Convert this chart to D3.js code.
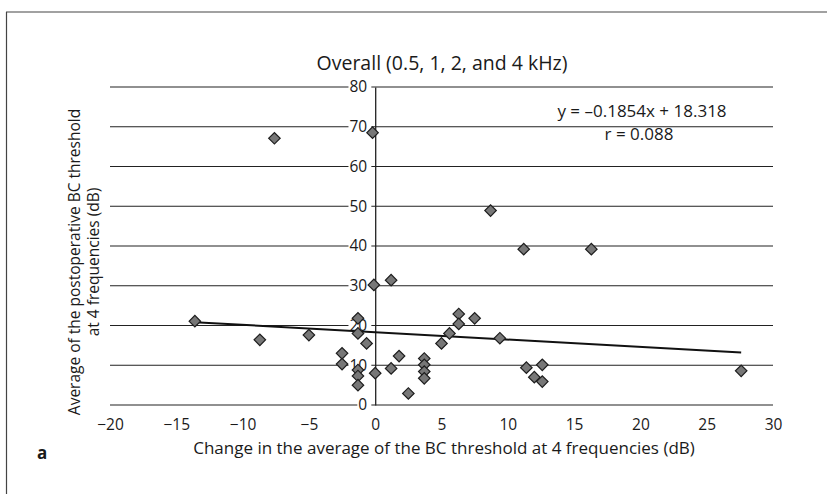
<!DOCTYPE html>
<html><head><meta charset="utf-8">
<script src="https://cdn.jsdelivr.net/npm/d3@7"></script>
<style>body{margin:0;background:#fff}svg{display:block}text{font-family:"Open Sans","Noto Sans",sans-serif;fill:#1a1a1a}</style>
</head><body><svg id="c" width="827" height="494"></svg>
<script>
const xValues = [-7.6,-0.2,8.7,11.2,16.3,-0.1,1.2,-13.6,-8.7,-5.0,-2.5,-2.5,-1.3,-1.3,-0.65,-1.3,-1.3,-1.3,0.0,1.2,1.8,2.5,3.7,3.7,3.7,3.7,5.0,5.6,6.3,6.3,7.5,9.4,11.4,12.6,12.0,12.6,27.6];
const yValues = [67.1,68.5,48.9,39.2,39.2,30.2,31.4,21.1,16.4,17.6,13.0,10.3,21.8,18.0,15.5,8.8,7.3,5.0,8.0,9.2,12.3,2.9,11.7,10.1,8.4,6.7,15.5,18.0,22.9,20.4,21.8,16.8,9.4,10.1,7.0,5.9,8.6];
const xTicks = [-20,-15,-10,-5,0,5,10,15,20,25,30];
const yTicks = [0,10,20,30,40,50,60,70,80];
const slope = -0.1854, intercept = 18.318;
const title = "Overall (0.5, 1, 2, and 4 kHz)";
const xTitle = "Change in the average of the BC threshold at 4 frequencies (dB)";
const yTitle = ["Average of the postoperative BC threshold","at 4 frequencies (dB)"];
const eqText = "y = \u20130.1854x + 18.318";
const rText = "r = 0.088";

const svg = d3.select("#c");
const x = d3.scaleLinear().domain([-20,30]).range([110,773]);
const y = d3.scaleLinear().domain([0,80]).range([405,87]);
const ink = "#222";

// frame
svg.append("line").attr("x1",6).attr("x2",827).attr("y1",12).attr("y2",12).attr("stroke","#444").attr("stroke-width",1.2);
svg.append("line").attr("x1",6.5).attr("x2",6.5).attr("y1",12).attr("y2",494).attr("stroke","#444").attr("stroke-width",1.2);

// gridlines
svg.append("g").selectAll("line").data(yTicks).join("line")
  .attr("x1",x(-20)).attr("x2",x(30)).attr("y1",d=>y(d)).attr("y2",d=>y(d))
  .attr("stroke",ink).attr("stroke-width",1.1);

// y axis at x=0 with labels left of it
const yAxis = d3.axisLeft(y).tickValues(yTicks).tickSize(0).tickPadding(8).tickFormat(d3.format("d"));
const gy = svg.append("g").attr("transform",`translate(${x(0)},0)`).call(yAxis);
gy.select(".domain").attr("stroke",ink).attr("stroke-width",1.3);
gy.selectAll(".tick text").attr("font-size",15.5).attr("fill","#1a1a1a").style("font-family","'Open Sans',sans-serif");
gy.selectAll(".tick").each(function(){
  const t = d3.select(this).select("text");
  const bb = t.node().getBBox();
  d3.select(this).insert("rect","text").attr("x",bb.x-1).attr("y",bb.y+2).attr("width",bb.width+5).attr("height",bb.height-4).attr("fill","#fff");
});

// x axis labels
const xAxis = d3.axisBottom(x).tickValues(xTicks).tickSize(0).tickPadding(14).tickFormat(d=>d<0?"\u2212"+Math.abs(d):d);
const gx = svg.append("g").attr("transform",`translate(0,${y(0)})`).call(xAxis);
gx.select(".domain").remove();
gx.selectAll(".tick text").attr("font-size",15.5).attr("fill","#1a1a1a").style("font-family","'Open Sans',sans-serif");

// trend line
const xmin = d3.min(xValues), xmax = d3.max(xValues);
svg.append("line").attr("x1",x(xmin)).attr("y1",y(slope*xmin+intercept))
  .attr("x2",x(xmax)).attr("y2",y(slope*xmax+intercept))
  .attr("stroke","#111").attr("stroke-width",2);

// points
const pts = xValues.map((v,i)=>[v,yValues[i]]);
svg.append("g").selectAll("path").data(pts).join("path")
  .attr("d",d3.symbol(d3.symbolSquare,66))
  .attr("transform",d=>`translate(${x(d[0])},${y(d[1])}) rotate(45)`)
  .attr("fill","#777").attr("stroke","#1e1e1e").attr("stroke-width",1.2);

// texts
svg.append("text").attr("x",442).attr("y",70).attr("text-anchor","middle").attr("font-size",19.5).text(title);
svg.append("text").attr("x",642).attr("y",117).attr("text-anchor","middle").attr("font-size",17).text(eqText);
svg.append("text").attr("x",639).attr("y",140).attr("text-anchor","middle").attr("font-size",17).text(rText);
svg.append("text").attr("x",444).attr("y",454).attr("text-anchor","middle").attr("font-size",17).text(xTitle);
svg.append("text").attr("x",37).attr("y",459).attr("font-size",17).attr("font-weight","bold").text("a");
const yt = svg.append("text").attr("transform","translate(80,262) rotate(-90)").attr("text-anchor","middle").attr("font-size",15.5);
yt.append("tspan").attr("x",0).attr("y",0).text(yTitle[0]);
yt.append("tspan").attr("x",0).attr("y",19).text(yTitle[1]);
</script></body></html>
